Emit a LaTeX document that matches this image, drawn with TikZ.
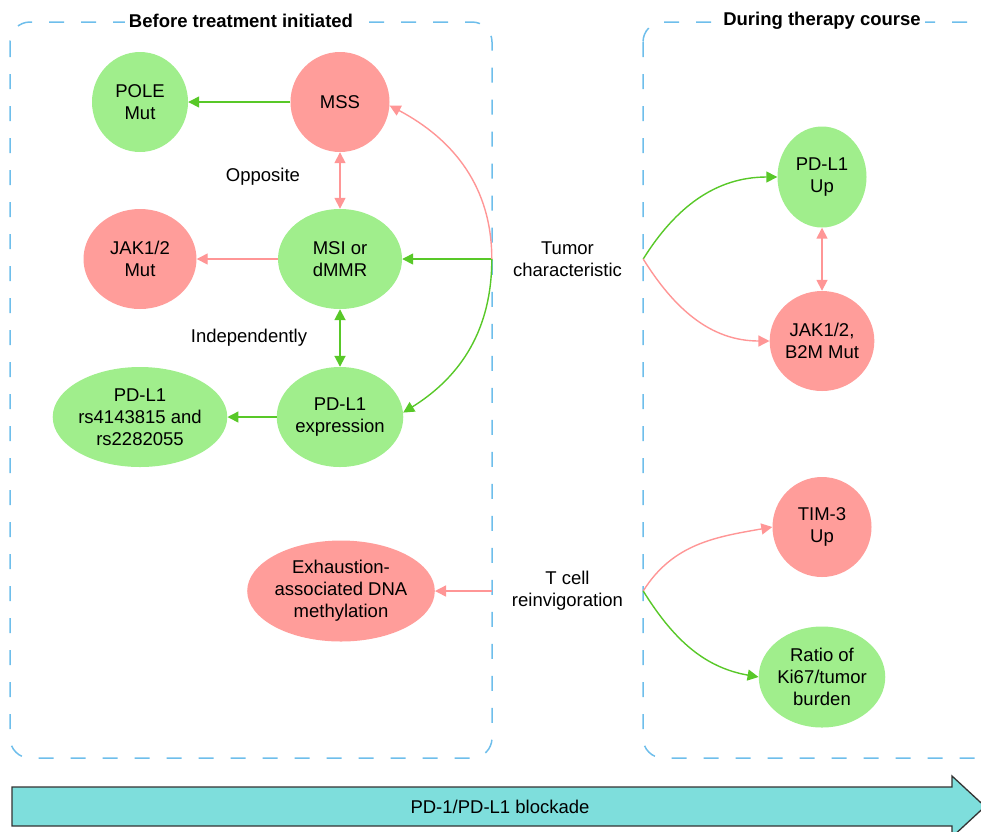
\documentclass[tikz,border=0pt]{standalone}
\usepackage{fontspec}
\setmainfont{Liberation Sans}
\usetikzlibrary{shapes.geometric,arrows.meta}
\definecolor{gfill}{RGB}{160,238,140}
\definecolor{pfill}{RGB}{255,157,154}
\definecolor{gline}{RGB}{88,200,40}
\definecolor{pline}{RGB}{255,150,150}
\definecolor{boxblue}{RGB}{110,190,235}
\definecolor{band}{RGB}{126,222,220}
\tikzset{
  txt/.style={font=\fontsize{18.5}{22}\selectfont, align=center, inner sep=0pt},
  gnode/.style={ellipse, fill=gfill, draw=none, txt},
  pnode/.style={ellipse, fill=pfill, draw=none, txt},
  garrow/.style={draw=gline, line width=1.4pt, -{Triangle[length=11pt,width=11pt]}},
  parrow/.style={draw=pline, line width=1.4pt, -{Triangle[length=11pt,width=11pt]}},
  gdouble/.style={draw=gline, line width=1.8pt, {Triangle[length=11pt,width=11pt]}-{Triangle[length=11pt,width=11pt]}},
  pdouble/.style={draw=pline, line width=1.6pt, {Triangle[length=11pt,width=11pt]}-{Triangle[length=11pt,width=11pt]}},
  groupbox/.style={draw=boxblue, line width=1.5pt, dash pattern=on 15pt off 17pt, rounded corners=20pt},
  grouptitle/.style={fill=white, inner sep=4pt, font=\bfseries\fontsize{18.5}{22}\selectfont}
}
\begin{document}
\begin{tikzpicture}[x=1pt,y=-1pt]
\useasboundingbox (0,0) rectangle (981,831);
\clip (0,0) rectangle (981,831);

% group boxes
\draw[groupbox] (10,22) rectangle (492,758);
\draw[groupbox] (643,22) rectangle (1020,758);
\node[grouptitle] (t1) at (241,21) {Before treatment initiated};
\node[grouptitle] (t2) at (822,21) {During therapy course};

% left nodes
\node[gnode, minimum width=96pt, minimum height=100pt] (POLE) at (140,102) {POLE\\Mut};
\node[pnode, minimum width=99pt, minimum height=100pt] (MSS) at (340,102) {MSS};
\node[pnode, minimum width=113pt, minimum height=100pt] (JAK) at (140,259) {JAK1/2\\Mut};
\node[gnode, minimum width=124pt, minimum height=100pt] (MSI) at (340,259) {MSI or\\dMMR};
\node[gnode, minimum width=148pt, minimum height=100pt] (RS) at (140,417) {PD-L1\\rs4143815 and\\rs2282055};
\node[gnode, minimum width=124pt, minimum height=100pt] (PDE) at (340,417) {PD-L1\\expression};
\node[pnode, minimum width=184pt, minimum height=101pt] (EXH) at (341,591) {Exhaustion-\\associated DNA\\methylation};

\node[txt] (opp) at (263,177) {Opposite};
\node[txt] (ind) at (249,338) {Independently};

% middle labels
\node[txt, minimum width=151pt] (TUM) at (567.5,259) {Tumor\\characteristic};
\node[txt, minimum width=151pt] (TCELL) at (567.5,591) {T cell\\reinvigoration};

% right nodes
\node[gnode, minimum width=89pt, minimum height=101pt] (PDUP) at (822,177) {PD-L1\\Up};
\node[pnode, minimum width=99pt, minimum height=100pt] (JB) at (822,341) {JAK1/2,\\B2M Mut};
\node[pnode, minimum width=99pt, minimum height=100pt] (TIM) at (822,527) {TIM-3\\Up};
\node[gnode, minimum width=124pt, minimum height=101pt] (RATIO) at (822,677) {Ratio of\\Ki67/tumor\\burden};

% left connectors
\draw[garrow] (MSS) -- (POLE);
\draw[pdouble] (MSS) -- (MSI);
\draw[parrow] (MSI) -- (JAK);
\draw[gdouble] (MSI) -- (PDE);
\draw[garrow] (PDE) -- (RS);
\draw[garrow] (TUM.west) -- (MSI);
\draw[parrow] (TUM.west) to[out=-90+180,in=-28] (MSS.-4);
\draw[garrow] (TUM.west) to[out=-90,in=32] (PDE.4);
\draw[parrow] (TCELL.west) -- (EXH);

% right connectors
\draw[garrow] (TUM.east) to[out=58,in=180] (PDUP.west);
\draw[parrow] (TUM.east) to[out=-58,in=180] (JB.west);
\draw[pdouble] (PDUP) -- (JB);
\draw[parrow] (TCELL.east) to[out=58,in=190] (TIM.west);
\draw[garrow] (TCELL.east) to[out=-58,in=170] (RATIO.west);

% blockade arrow
\draw[draw=black!80, line width=1.3pt, fill=band, line join=miter]
  (12,787) -- (952,787) -- (952,776) -- (985,806.5) -- (952,837) -- (952,826) -- (12,826) -- cycle;
\node[txt] (BLK) at (500,806.5) {PD-1/PD-L1 blockade};
\end{tikzpicture}
\end{document}
